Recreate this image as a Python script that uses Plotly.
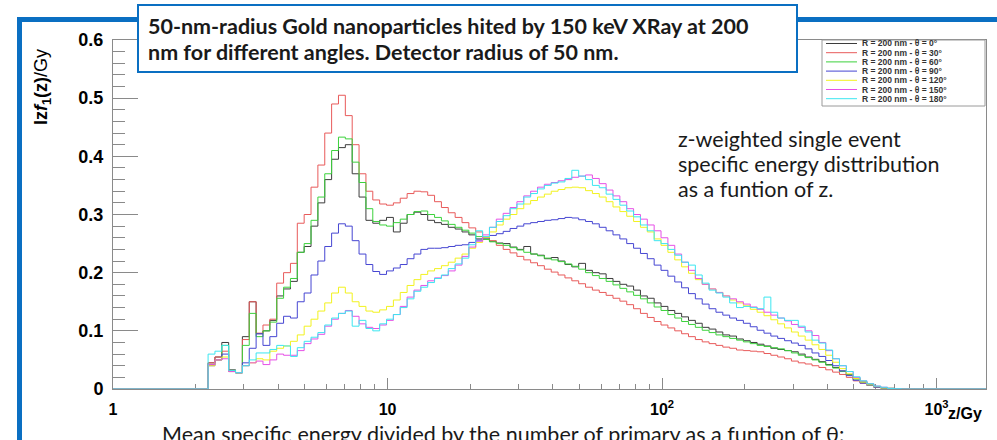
import numpy as np
import plotly.graph_objects as go

# ---------------------------------------------------------------------------
# Data: z-weighted single-event specific energy distributions z*f1(z)
# for a 50 nm radius gold nanoparticle, detector at R = 200 nm.
# Histograms use log-spaced z bins (Gy).
# ---------------------------------------------------------------------------
z_first_edge = 2.22          # lower edge of the first filled bin (Gy)
bins_per_decade = 40
z_axis_max = 1514.0          # upper end of the z axis (Gy)

angles_deg = [0, 30, 60, 90, 120, 150, 180]
series_names = [f"R = 200 nm - \u03b8 = {a}\u00b0" for a in angles_deg]
series_colors = ["#3c3c3c", "#e85a5a", "#3cd23c", "#4646d2",
                 "#f2f21e", "#e650e6", "#3ce6f0"]

zf_theta_0 = [
    0.045, 0.055, 0.08, 0.033, 0.028, 0.09, 0.15, 0.095, 0.1, 0.118,
    0.16, 0.172, 0.185, 0.235, 0.245, 0.28, 0.32, 0.36, 0.395, 0.415,
    0.42, 0.37, 0.33, 0.29, 0.285, 0.29, 0.295, 0.27, 0.285, 0.3,
    0.304, 0.3, 0.29, 0.286, 0.283, 0.278, 0.275, 0.27, 0.265, 0.258,
    0.26, 0.254, 0.251, 0.25, 0.244, 0.24, 0.245, 0.232, 0.23, 0.224,
    0.226, 0.22, 0.214, 0.21, 0.216, 0.204, 0.2, 0.198, 0.19, 0.185,
    0.18, 0.177, 0.17, 0.16, 0.156, 0.148, 0.142, 0.135, 0.13, 0.124,
    0.118, 0.113, 0.106, 0.103, 0.098, 0.093, 0.091, 0.086, 0.083, 0.08,
    0.077, 0.074, 0.07, 0.068, 0.066, 0.064, 0.06, 0.055, 0.051, 0.047,
    0.042, 0.037, 0.031, 0.025, 0.018, 0.012, 0.008, 0.004, 0.002, 0.001,
    0.0005, 0, 0,
]
zf_theta_30 = [
    0.045, 0.055, 0.065, 0.032, 0.028, 0.085, 0.15, 0.096, 0.11, 0.12,
    0.182, 0.2, 0.216, 0.285, 0.3, 0.347, 0.385, 0.44, 0.49, 0.505,
    0.47, 0.42, 0.37, 0.34, 0.325, 0.318, 0.316, 0.32, 0.328, 0.336,
    0.34, 0.339, 0.333, 0.322, 0.312, 0.303, 0.295, 0.286, 0.277, 0.27,
    0.261, 0.255, 0.247, 0.24, 0.234, 0.228, 0.222, 0.217, 0.212, 0.206,
    0.201, 0.196, 0.191, 0.186, 0.181, 0.175, 0.17, 0.166, 0.161, 0.156,
    0.151, 0.145, 0.138, 0.13, 0.123, 0.116, 0.11, 0.105, 0.1, 0.095,
    0.09, 0.085, 0.081, 0.078, 0.075, 0.072, 0.07, 0.067, 0.066, 0.065,
    0.064, 0.061, 0.058, 0.055, 0.052, 0.048, 0.045, 0.043, 0.04, 0.037,
    0.033, 0.029, 0.025, 0.02, 0.014, 0.01, 0.006, 0.003, 0.002, 0.001,
    0.0005, 0, 0,
]
zf_theta_60 = [
    0.042, 0.05, 0.075, 0.032, 0.028, 0.075, 0.13, 0.09, 0.1, 0.115,
    0.156, 0.175, 0.19, 0.235, 0.25, 0.29, 0.33, 0.37, 0.41, 0.433,
    0.43, 0.39, 0.355, 0.31, 0.288, 0.282, 0.28, 0.286, 0.292, 0.3,
    0.305, 0.306, 0.3, 0.295, 0.289, 0.283, 0.278, 0.273, 0.268, 0.262,
    0.257, 0.253, 0.25, 0.247, 0.243, 0.239, 0.235, 0.232, 0.229, 0.225,
    0.222, 0.219, 0.215, 0.211, 0.206, 0.2, 0.195, 0.19, 0.185, 0.179,
    0.173, 0.167, 0.161, 0.155, 0.148, 0.141, 0.135, 0.128, 0.122, 0.116,
    0.111, 0.106, 0.101, 0.097, 0.093, 0.09, 0.087, 0.084, 0.081, 0.078,
    0.075, 0.073, 0.071, 0.069, 0.066, 0.062, 0.058, 0.054, 0.05, 0.046,
    0.041, 0.036, 0.03, 0.024, 0.017, 0.012, 0.008, 0.004, 0.002, 0.001,
    0.0005, 0, 0,
]
zf_theta_90 = [
    0.04, 0.05, 0.06, 0.03, 0.028, 0.045, 0.07, 0.095, 0.075, 0.09,
    0.113, 0.125, 0.122, 0.15, 0.165, 0.196, 0.22, 0.245, 0.268, 0.284,
    0.28, 0.255, 0.232, 0.214, 0.202, 0.197, 0.203, 0.208, 0.214, 0.224,
    0.232, 0.24, 0.242, 0.242, 0.243, 0.245, 0.247, 0.248, 0.252, 0.256,
    0.259, 0.264, 0.267, 0.271, 0.276, 0.28, 0.284, 0.286, 0.288, 0.29,
    0.291, 0.293, 0.295, 0.294, 0.291, 0.288, 0.284, 0.278, 0.272, 0.265,
    0.258, 0.25, 0.242, 0.233, 0.224, 0.213, 0.204, 0.194, 0.184, 0.174,
    0.164, 0.155, 0.146, 0.138, 0.132, 0.127, 0.122, 0.118, 0.113, 0.107,
    0.101, 0.096, 0.091, 0.087, 0.083, 0.079, 0.075, 0.069, 0.062, 0.056,
    0.049, 0.04, 0.031, 0.023, 0.015, 0.01, 0.006, 0.003, 0.002, 0.001,
    0.0005, 0, 0,
]
zf_theta_120 = [
    0.04, 0.05, 0.055, 0.03, 0.028, 0.04, 0.045, 0.052, 0.05, 0.065,
    0.07, 0.074, 0.082, 0.093, 0.108, 0.12, 0.134, 0.148, 0.165, 0.175,
    0.165, 0.15, 0.142, 0.134, 0.132, 0.136, 0.142, 0.153, 0.166, 0.178,
    0.188, 0.197, 0.203, 0.207, 0.212, 0.218, 0.225, 0.232, 0.242, 0.252,
    0.26, 0.27, 0.282, 0.292, 0.3, 0.31, 0.318, 0.324, 0.33, 0.335,
    0.34, 0.343, 0.346, 0.347, 0.346, 0.341, 0.336, 0.33, 0.322, 0.313,
    0.305, 0.297, 0.288, 0.278, 0.27, 0.258, 0.247, 0.235, 0.222, 0.21,
    0.199, 0.188, 0.18, 0.172, 0.166, 0.16, 0.153, 0.148, 0.143, 0.137,
    0.132, 0.126, 0.119, 0.112, 0.105, 0.098, 0.091, 0.084, 0.076, 0.068,
    0.058, 0.046, 0.035, 0.026, 0.018, 0.012, 0.007, 0.004, 0.002, 0.001,
    0.0005, 0, 0,
]
zf_theta_150 = [
    0.042, 0.05, 0.052, 0.03, 0.028, 0.04, 0.045, 0.048, 0.042, 0.05,
    0.06, 0.058, 0.058, 0.066, 0.078, 0.086, 0.094, 0.108, 0.12, 0.13,
    0.135, 0.125, 0.112, 0.106, 0.104, 0.11, 0.118, 0.128, 0.142, 0.158,
    0.17, 0.178, 0.186, 0.191, 0.195, 0.203, 0.213, 0.228, 0.244, 0.254,
    0.265, 0.278, 0.292, 0.302, 0.312, 0.322, 0.332, 0.34, 0.347, 0.352,
    0.355, 0.358, 0.36, 0.364, 0.366, 0.368, 0.362, 0.353, 0.342, 0.332,
    0.322, 0.31, 0.3, 0.292, 0.282, 0.272, 0.26, 0.247, 0.232, 0.218,
    0.204, 0.19, 0.18, 0.172, 0.166, 0.16, 0.155, 0.15, 0.146, 0.141,
    0.137, 0.132, 0.127, 0.122, 0.117, 0.111, 0.106, 0.1, 0.092, 0.08,
    0.066, 0.052, 0.04, 0.03, 0.02, 0.014, 0.009, 0.005, 0.003, 0.001,
    0.0005, 0, 0,
]
zf_theta_180 = [
    0.06, 0.065, 0.075, 0.032, 0.028, 0.04, 0.05, 0.062, 0.062, 0.068,
    0.075, 0.074, 0.056, 0.071, 0.082, 0.089, 0.097, 0.11, 0.122, 0.13,
    0.134, 0.108, 0.118, 0.104, 0.1, 0.112, 0.12, 0.128, 0.14, 0.155,
    0.168, 0.175, 0.183, 0.19, 0.196, 0.207, 0.215, 0.225, 0.248, 0.272,
    0.262, 0.278, 0.288, 0.298, 0.31, 0.318, 0.33, 0.336, 0.344, 0.35,
    0.354, 0.356, 0.362, 0.376, 0.366, 0.36, 0.35, 0.346, 0.335, 0.326,
    0.316, 0.306, 0.296, 0.282, 0.272, 0.255, 0.25, 0.24, 0.23, 0.218,
    0.213, 0.196, 0.182, 0.17, 0.165, 0.158, 0.148, 0.14, 0.142, 0.14,
    0.138, 0.158, 0.132, 0.122, 0.118, 0.118, 0.108, 0.098, 0.084, 0.079,
    0.067, 0.052, 0.04, 0.03, 0.021, 0.014, 0.009, 0.005, 0.003, 0.001,
    0.0005, 0, 0,
]
series_values = [zf_theta_0, zf_theta_30, zf_theta_60, zf_theta_90,
                 zf_theta_120, zf_theta_150, zf_theta_180]

x_tick_vals = [1, 10, 100, 1000]
x_tick_text = ["1", "10", "10<sup>2</sup>", "10<sup>3</sup>"]

title_lines = ["50-nm-radius Gold nanoparticles hited by 150 keV XRay at 200",
               "nm for different angles. Detector radius of 50 nm."]
note_lines = ["z-weighted single event",
              "specific energy disttribution",
              "as a funtion of z."]
footer_text = "Mean specific energy divided by the number of primary as a funtion of \u03b8:"

# ---------------------------------------------------------------------------
# Page geometry (pixels) and helpers to place slide decorations
# ---------------------------------------------------------------------------
W, H = 997, 440
ML, MR, MT, MB = 113, 11, 40, 51
PW, PH = W - ML - MR, H - MT - MB


def px(x):
    return (x - ML) / PW


def py(y):
    return (H - MB - y) / PH


AXIS_GREY = "#8a8a8a"
SLIDE_BLUE = "#0a6fc2"
ROOT_FONT = "Liberation Sans"
SLIDE_FONT = "Lato"

n_bins = len(zf_theta_0)
edges = 10 ** (np.log10(z_first_edge) + np.arange(n_bins + 1) / bins_per_decade)
x_steps = [1.0] + list(edges[:-1]) + [edges[-1], z_axis_max]

fig = go.Figure()
for name, color, vals in zip(series_names, series_colors, series_values):
    fig.add_trace(go.Scatter(
        x=x_steps, y=[0.0] + list(vals) + [0.0, 0.0],
        mode="lines", name=name,
        line=dict(color=color, width=1, shape="hv"),
        showlegend=False, hoverinfo="skip",
    ))

shapes = []
annotations = []

# slide frame: thick blue rule along the left and top
shapes.append(dict(type="line", xref="paper", yref="paper",
                   x0=px(19.5), x1=px(19.5), y0=py(17), y1=py(445),
                   line=dict(color=SLIDE_BLUE, width=5), layer="above"))
shapes.append(dict(type="line", xref="paper", yref="paper",
                   x0=px(17), x1=px(1000), y0=py(19.5), y1=py(19.5),
                   line=dict(color=SLIDE_BLUE, width=5), layer="above"))

# title box
shapes.append(dict(type="rect", xref="paper", yref="paper",
                   x0=px(138), x1=px(797), y0=py(72), y1=py(5),
                   fillcolor="white", line=dict(color=SLIDE_BLUE, width=2),
                   layer="above"))
for i, line in enumerate(title_lines):
    annotations.append(dict(xref="paper", yref="paper", x=px(146), y=py(26 + 26 * i),
                            xanchor="left", yanchor="middle", showarrow=False,
                            text=f"<b>{line}</b>",
                            font=dict(family=SLIDE_FONT, size=21.5, color="#1a1a1a")))

# legend box drawn in the ROOT style
leg_x0, leg_x1, leg_y0, leg_y1 = 822, 985, 40, 106
shapes.append(dict(type="rect", xref="paper", yref="paper",
                   x0=px(leg_x0), x1=px(leg_x1), y0=py(leg_y1), y1=py(leg_y0),
                   fillcolor="white", line=dict(color="#9a9a9a", width=1),
                   layer="above"))
for i, (name, color) in enumerate(zip(series_names, series_colors)):
    yy = 43.5 + 9.2 * i
    shapes.append(dict(type="line", xref="paper", yref="paper",
                       x0=px(826), x1=px(857), y0=py(yy), y1=py(yy),
                       line=dict(color=color, width=1), layer="above"))
    annotations.append(dict(xref="paper", yref="paper", x=px(861), y=py(yy),
                            xanchor="left", yanchor="middle", showarrow=False,
                            text=f"<b>{name}</b>", borderpad=0,
                            font=dict(family=ROOT_FONT, size=8.5, color="#333333")))

# explanatory note
for i, line in enumerate(note_lines):
    annotations.append(dict(xref="paper", yref="paper", x=px(676), y=py(139 + 25 * i),
                            xanchor="left", yanchor="middle", showarrow=False,
                            text=line,
                            font=dict(family=SLIDE_FONT, size=21.5, color="#1a1a1a")))

# footer line (continues below the visible page)
annotations.append(dict(xref="paper", yref="paper", x=px(160), y=py(434),
                        xanchor="left", yanchor="middle", showarrow=False,
                        text=footer_text,
                        font=dict(family=SLIDE_FONT, size=21.5, color="#1a1a1a")))

# axis titles
annotations.append(dict(xref="paper", yref="paper", x=px(43), y=py(87),
                        xanchor="center", yanchor="middle", showarrow=False,
                        textangle=-90,
                        text="<b>lz<i>f</i><sub>1</sub>(z)</b>/Gy",
                        font=dict(family=ROOT_FONT, size=18, color="black")))
annotations.append(dict(xref="paper", yref="paper", x=px(984), y=py(413),
                        xanchor="right", yanchor="middle", showarrow=False,
                        text="<b>z/Gy</b>",
                        font=dict(family=ROOT_FONT, size=16, color="black")))

fig.update_layout(
    width=W, height=H,
    margin=dict(l=ML, r=MR, t=MT, b=MB, pad=0),
    paper_bgcolor="white", plot_bgcolor="white",
    showlegend=False,
    xaxis=dict(
        type="log", range=[0, np.log10(z_axis_max)],
        showgrid=False, zeroline=False,
        showline=True, linecolor=AXIS_GREY, linewidth=1, mirror=True,
        ticks="inside", ticklen=11, tickcolor=AXIS_GREY, tickwidth=1,
        tickmode="array", tickvals=x_tick_vals, ticktext=x_tick_text,
        tickfont=dict(family=ROOT_FONT, size=16, color="black", weight="bold"),
        ticklabelstandoff=6,
        minor=dict(ticks="inside", ticklen=5, tickcolor=AXIS_GREY, dtick="D1",
                   showgrid=False),
        layer="below traces",
    ),
    yaxis=dict(
        range=[0, 0.6],
        showgrid=False, zeroline=False,
        showline=True, linecolor=AXIS_GREY, linewidth=1, mirror=True,
        ticks="inside", ticklen=25, tickcolor=AXIS_GREY, tickwidth=1,
        dtick=0.1, tick0=0,
        tickfont=dict(family=ROOT_FONT, size=18, color="black", weight="bold"),
        ticklabelstandoff=5,
        minor=dict(ticks="inside", ticklen=12, tickcolor=AXIS_GREY, dtick=0.02,
                   showgrid=False),
        layer="below traces",
    ),
    shapes=shapes,
    annotations=annotations,
)

fig.write_html("out.html")
